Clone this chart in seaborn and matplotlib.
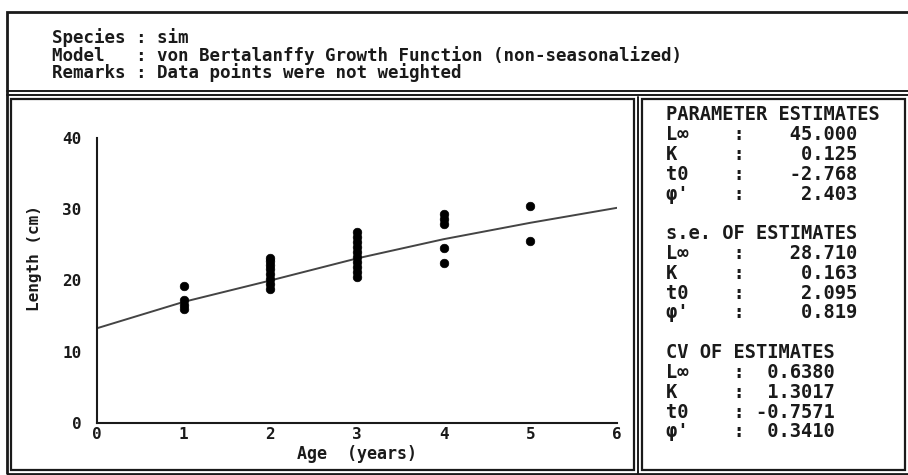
import matplotlib
matplotlib.use("Agg")
import matplotlib.pyplot as plt
from matplotlib.lines import Line2D
from matplotlib.patches import Rectangle
import seaborn as sns
import pandas as pd

# ---- data ----
obs_age = [1, 1, 1, 1,
           2, 2, 2, 2, 2, 2, 2, 2,
           3, 3, 3, 3, 3, 3, 3, 3, 3, 3,
           4, 4, 4, 4, 4,
           5, 5]
obs_length = [19.2, 17.3, 16.6, 16.0,
              23.2, 22.7, 22.2, 21.6, 20.9, 20.2, 19.5, 18.8,
              26.8, 26.1, 25.4, 24.7, 24.0, 23.3, 22.6, 21.9, 21.2, 20.5,
              29.4, 28.7, 28.0, 24.5, 22.5,
              30.4, 25.5]

# fitted VBGF curve, read at whole ages
curve_age = [0, 1, 2, 3, 4, 5, 6]
curve_length = [13.3, 17.0, 20.0, 23.1, 25.8, 28.1, 30.2]

x_ticks = [0, 1, 2, 3, 4, 5, 6]
y_ticks = [0, 10, 20, 30, 40]

header_lines = ["Species : sim",
                "Model   : von Bertalanffy Growth Function (non-seasonalized)",
                "Remarks : Data points were not weighted"]

param_labels = ["L\u221e", "K", "t0", "\u03c6'"]
param_est = ["45.000", "0.125", "-2.768", "2.403"]
param_se = ["28.710", "0.163", "2.095", "0.819"]
param_cv = ["0.6380", "1.3017", "-0.7571", "0.3410"]

W, H = 908, 475
INK = "#1a1a1a"
MONO = ["DejaVu Sans Mono"]

sns.set_style("white")
plt.rcParams['font.family'] = MONO
plt.rcParams['font.weight'] = 'bold'

fig = plt.figure(figsize=(W / 100, H / 100), dpi=100)


def box(x0, y0, x1, y1, lw=1.6):
    fig.add_artist(Rectangle((x0 / W, 1 - y1 / H), (x1 - x0) / W, (y1 - y0) / H,
                             fill=False, lw=lw, ec=INK, transform=fig.transFigure))


def hline(x0, x1, y, lw=1.4):
    fig.add_artist(Line2D([x0 / W, x1 / W], [1 - y / H, 1 - y / H], lw=lw,
                          color=INK, transform=fig.transFigure))


def put(x, y, s, **kw):
    fig.text(x / W, 1 - y / H, s, color=INK, fontweight='bold', **kw)


# screen frames (double lines like the DOS output)
box(7, 12, 930, 474, lw=2.0)
hline(7, 930, 91)
hline(7, 930, 95)
box(11, 99, 634, 470)
fig.add_artist(Line2D([638 / W, 638 / W], [1 - 97 / H, 1 - 474 / H], lw=1.4,
                      color=INK, transform=fig.transFigure))
box(642, 99, 905, 470)

# header
for i, line in enumerate(header_lines):
    put(52, 38 + i * 17.5, line, fontsize=12.6, va='center', ha='left')

# parameter panel
rows = []
rows.append("PARAMETER ESTIMATES")
rows += [f"{lab:<6}:{v:>10}" for lab, v in zip(param_labels, param_est)]
rows.append("")
rows.append("s.e. OF ESTIMATES")
rows += [f"{lab:<6}:{v:>10}" for lab, v in zip(param_labels, param_se)]
rows.append("")
rows.append("CV OF ESTIMATES")
rows += [f"{lab:<6}: {v:>7}" for lab, v in zip(param_labels, param_cv)]
for i, r in enumerate(rows):
    if r:
        put(666, 115 + i * 19.8, r, fontsize=13.5, va='center', ha='left')

# growth plot
ax = fig.add_axes([97 / W, 1 - 423 / H, 520 / W, 285 / H])
obs = pd.DataFrame({"age": obs_age, "length": obs_length})
fit = pd.DataFrame({"age": curve_age, "length": curve_length})
sns.lineplot(data=fit, x="age", y="length", ax=ax, color="#444444", lw=1.4)
sns.scatterplot(data=obs, x="age", y="length", ax=ax, color="black",
                s=38, edgecolor="black", linewidth=0.5, zorder=3)

ax.set_xlim(0, 6)
ax.set_ylim(0, 40)
ax.set_xticks(x_ticks)
ax.set_yticks(y_ticks)
ax.set_xticklabels([str(t) for t in x_ticks], fontsize=11.5, fontweight='bold')
ax.set_yticklabels([str(t) for t in y_ticks], fontsize=11.5, fontweight='bold')
ax.tick_params(axis='x', direction='in', length=6, width=1.3, pad=3, colors=INK)
ax.tick_params(axis='y', direction='out', length=5, width=1.3, pad=6, colors=INK)
ax.set_xlabel("")
ax.set_ylabel("")
for side in ["top", "right"]:
    ax.spines[side].set_visible(False)
for side in ["left", "bottom"]:
    ax.spines[side].set_color(INK)
    ax.spines[side].set_linewidth(1.5)
ax.patch.set_alpha(0)

put(357, 454, "Age  (years)", fontsize=12, ha='center', va='center')
put(35, 258, "Length (cm)", fontsize=11.5, ha='center', va='center', rotation=90)

plt.savefig("out.png", dpi=100)
plt.close()
